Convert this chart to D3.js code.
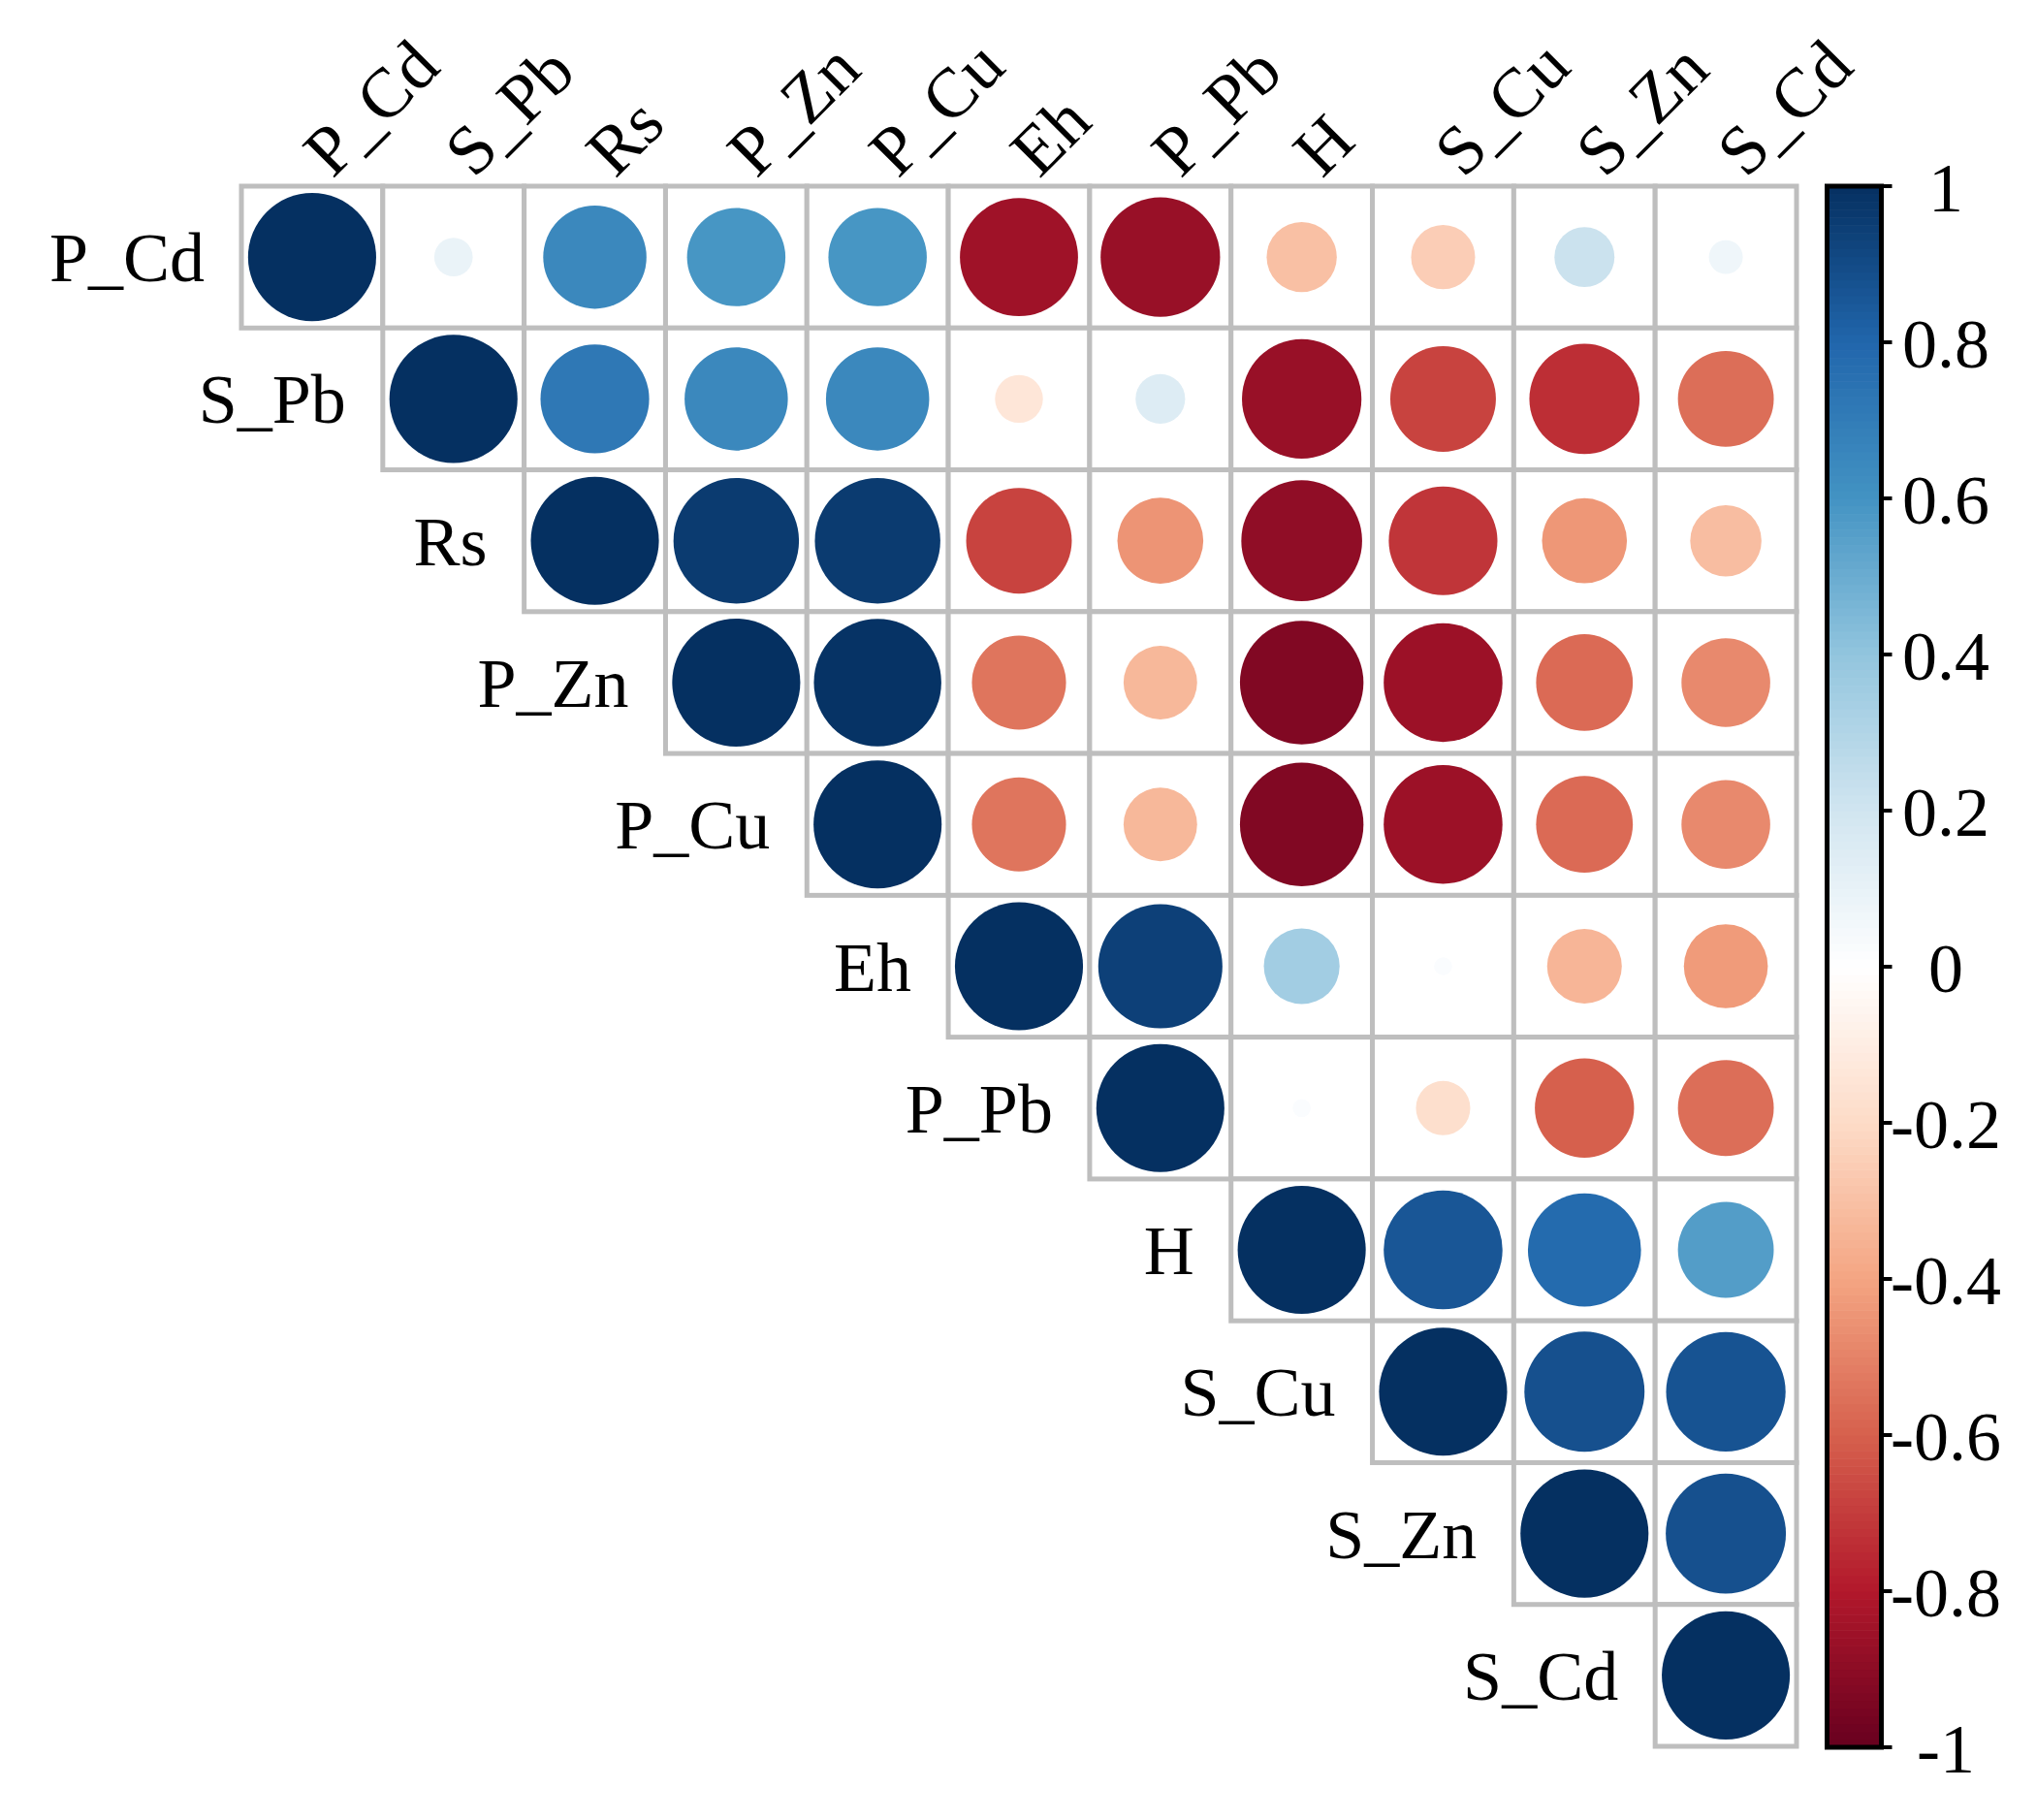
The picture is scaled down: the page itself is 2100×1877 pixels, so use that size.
<!DOCTYPE html>
<html>
<head>
<meta charset="utf-8">
<script src="https://cdn.jsdelivr.net/npm/d3@7"></script>
<style>
  html, body { margin: 0; padding: 0; background: #fff; }
  svg text { font-family: 'Liberation Serif', 'Times New Roman', serif; fill: #000; }
</style>
</head>
<body>
<svg id="chart" width="2100" height="1877"></svg>
<script>
// variables, in plot order
var vars = ['P_Cd', 'S_Pb', 'Rs', 'P_Zn', 'P_Cu', 'Eh', 'P_Pb', 'H', 'S_Cu', 'S_Zn', 'S_Cd'];

// upper triangle, each row starts at the diagonal
var rowPCd = [1, 0.09, 0.65, 0.59, 0.59, -0.85, -0.87, -0.30, -0.25, 0.22, 0.07];
var rowSPb = [1, 0.72, 0.65, 0.65, -0.14, 0.15, -0.87, -0.68, -0.74, -0.56];
var rowRs  = [1, 0.96, 0.96, -0.68, -0.45, -0.89, -0.72, -0.44, -0.31];
var rowPZn = [1, 0.99, -0.54, -0.33, -0.93, -0.86, -0.57, -0.48];
var rowPCu = [1, -0.54, -0.33, -0.93, -0.86, -0.57, -0.48];
var rowEh  = [1, 0.94, 0.35, 0.02, -0.34, -0.43];
var rowPPb = [1, 0.02, -0.18, -0.60, -0.56];
var rowH   = [1, 0.86, 0.78, 0.56];
var rowSCu = [1, 0.88, 0.87];
var rowSZn = [1, 0.88];
var rowSCd = [1];

var legendTicks = [1, 0.8, 0.6, 0.4, 0.2, 0, -0.2, -0.4, -0.6, -0.8, -1];
var legendLabels = ['1', '0.8', '0.6', '0.4', '0.2', '0', '-0.2', '-0.4', '-0.6', '-0.8', '-1'];

// corrplot RdBu palette stops
var palette = ['#67001F', '#B2182B', '#D6604D', '#F4A582', '#FDDBC7', '#FFFFFF',
               '#D1E5F0', '#92C5DE', '#4393C3', '#2166AC', '#053061'];

var rows = [rowPCd, rowSPb, rowRs, rowPZn, rowPCu, rowEh, rowPPb, rowH, rowSCu, rowSZn, rowSCd];

var cells = [];
rows.forEach(function (row, i) {
  row.forEach(function (v, k) {
    cells.push({ row: vars[i], col: vars[i + k], value: v });
  });
});

var svg = d3.select('#chart');

var x = d3.scaleBand().domain(vars).range([249, 1853]);
var y = d3.scaleBand().domain(vars).range([192, 1801]);
var bw = x.bandwidth(), bh = y.bandwidth();

var color = d3.scaleLinear()
  .domain(d3.range(palette.length).map(function (i) { return -1 + i * 0.2; }))
  .range(palette)
  .interpolate(d3.interpolateRgb);

var radius = d3.scaleSqrt().domain([0, 1]).range([0, 0.453 * Math.min(bw, bh)]);

// grid
svg.append('g')
  .selectAll('rect')
  .data(cells)
  .enter().append('rect')
  .attr('x', function (d) { return x(d.col); })
  .attr('y', function (d) { return y(d.row); })
  .attr('width', bw)
  .attr('height', bh)
  .attr('fill', '#fff')
  .attr('stroke', '#bebebe')
  .attr('stroke-width', 5);

// circles
svg.append('g')
  .selectAll('circle')
  .data(cells)
  .enter().append('circle')
  .attr('cx', function (d) { return x(d.col) + bw / 2; })
  .attr('cy', function (d) { return y(d.row) + bh / 2; })
  .attr('r', function (d) { return radius(Math.abs(d.value)); })
  .attr('fill', function (d) { return color(d.value); });

// row labels
svg.append('g')
  .selectAll('text')
  .data(vars)
  .enter().append('text')
  .attr('x', function (d) { return x(d) - 38; })
  .attr('y', function (d) { return y(d) + bh / 2 + 25; })
  .attr('text-anchor', 'end')
  .attr('font-size', 72)
  .text(function (d) { return d; });

// column labels
svg.append('g')
  .selectAll('text')
  .data(vars)
  .enter().append('text')
  .attr('transform', function (d) {
    return 'translate(' + (x(d) + bw / 2 + 21) + ',' + (y.range()[0] - 7) + ') rotate(-45)';
  })
  .attr('text-anchor', 'start')
  .attr('font-size', 72)
  .text(function (d) { return d; });

// colour legend
var ly = d3.scaleLinear().domain([-1, 1]).range([1802, 192]);
var barX = 1884.5, barW = 56;
var steps = d3.range(200).map(function (i) { return -1 + i * 0.01; });

var legend = svg.append('g');
legend.selectAll('rect.step')
  .data(steps)
  .enter().append('rect')
  .attr('class', 'step')
  .attr('x', barX)
  .attr('y', function (d) { return ly(d + 0.01); })
  .attr('width', barW)
  .attr('height', function (d) { return ly(d) - ly(d + 0.01) + 0.6; })
  .attr('fill', function (d) { return color(d + 0.005); });

legend.append('rect')
  .attr('x', barX)
  .attr('y', ly(1))
  .attr('width', barW)
  .attr('height', ly(-1) - ly(1))
  .attr('fill', 'none')
  .attr('stroke', '#000')
  .attr('stroke-width', 5);

legend.selectAll('line')
  .data(legendTicks)
  .enter().append('line')
  .attr('x1', barX + barW)
  .attr('x2', barX + barW + 11)
  .attr('y1', function (d) { return ly(d); })
  .attr('y2', function (d) { return ly(d); })
  .attr('stroke', '#000')
  .attr('stroke-width', 4);

legend.selectAll('text')
  .data(legendTicks)
  .enter().append('text')
  .attr('x', 2007)
  .attr('y', function (d) { return ly(d) + 26; })
  .attr('text-anchor', 'middle')
  .attr('font-size', 72)
  .text(function (d, i) { return legendLabels[i]; });
</script>
</body>
</html>
